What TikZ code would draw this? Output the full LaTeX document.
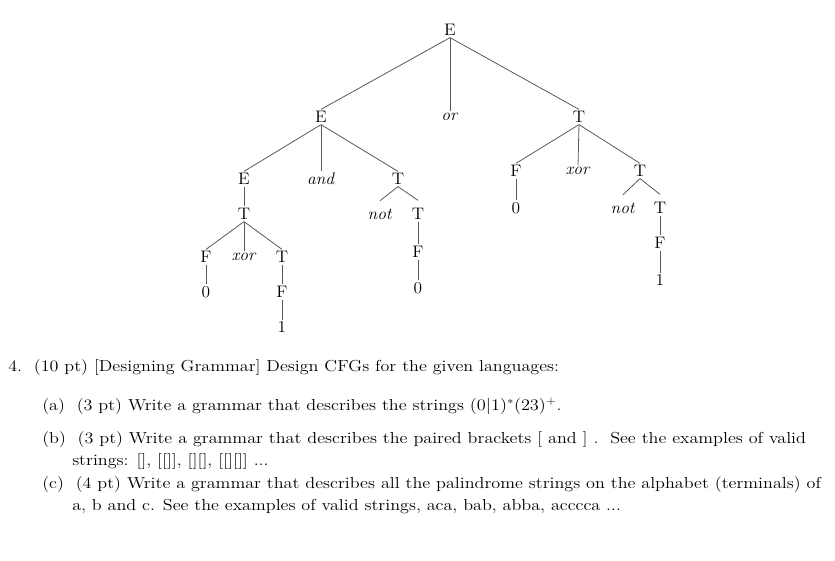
\documentclass[tikz,border=0pt]{standalone}
\usepackage{fontspec}
\begin{document}
\begin{tikzpicture}[x=1pt,y=-1pt,
  t/.style={inner sep=1.5pt,font=\fontsize{14.5}{16}\selectfont,transform shape,xscale=1.2,yscale=1.15},
  e/.style={draw=black!65,line width=0.8pt},
  txt/.style={anchor=base west,inner sep=0pt,font=\fontsize{14.2}{17}\selectfont,transform shape,xscale=1.276,yscale=1.12}]
\useasboundingbox (0,0) rectangle (835,561);
\node[t] (r) at (450,30) {E};
\node[t] (e1) at (321,117) {E};
\node[t] (or) at (450,117) {\textit{or}};
\node[t] (t1) at (579,117) {T};
\node[t] (e2) at (244,179) {E};
\node[t] (and) at (321,179) {\textit{and}};
\node[t] (t2) at (398,179) {T};
\node[t] (f3) at (516,171) {F};
\node[t] (x3) at (578,171) {\textit{xor}};
\node[t] (t3) at (640,171) {T};
\node[t] (t4) at (244,214) {T};
\node[t] (f5) at (206,257) {F};
\node[t] (x5) at (244,257) {\textit{xor}};
\node[t] (t5) at (282,257) {T};
\node[t] (z5) at (206,292) {0};
\node[t] (f6) at (282,292) {F};
\node[t] (o6) at (282,327) {1};
\node[t] (n7) at (380,214) {\textit{not}};
\node[t] (t7) at (418,214) {T};
\node[t] (f7) at (418,252) {F};
\node[t] (z7) at (418,288) {0};
\node[t] (z3) at (516,208) {0};
\node[t] (n8) at (623,208) {\textit{not}};
\node[t] (t8) at (660,208) {T};
\node[t] (f8) at (660,243) {F};
\node[t] (o8) at (660,280) {1};
\foreach \a/\b in {r/e1,r/or,r/t1,e1/e2,e1/and,e1/t2,t1/f3,t1/x3,t1/t3,e2/t4,t4/f5,t4/x5,t4/t5,f5/z5,t5/f6,f6/o6,t7/f7,f7/z7,f3/z3,t8/f8,f8/o8}
  \draw[e] (\a.south) -- (\b.north);
\foreach \a/\b in {t2/n7,t2/t7,t3/n8,t3/t8}
  \draw[e] (\a.south) -- ([yshift=6pt]\b.north);
\node[txt] (l0) at (8,371) {4.\ \ (10 pt) [Designing Grammar] Design CFGs for the given languages:};
\node[txt] (la) at (42,410) {(a)\ \ (3 pt) Write a grammar that describes the strings $(0|1)^*(23)^+$.};
\node[txt] (lb) at (42,443) {(b)\ \ (3 pt) Write a grammar that describes the paired brackets [ and ] .\ \ See the examples of valid};
\node[txt] (lb2) at (72,465) {strings: [], [[]], [][], [[][]] ...};
\node[txt] (lc) at (42,488) {(c)\ \ (4 pt) Write a grammar that describes all the palindrome strings on the alphabet (terminals) of};
\node[txt] (lc2) at (72,510) {a, b and c. See the examples of valid strings, aca, bab, abba, acccca ...};
\end{tikzpicture}
\end{document}
